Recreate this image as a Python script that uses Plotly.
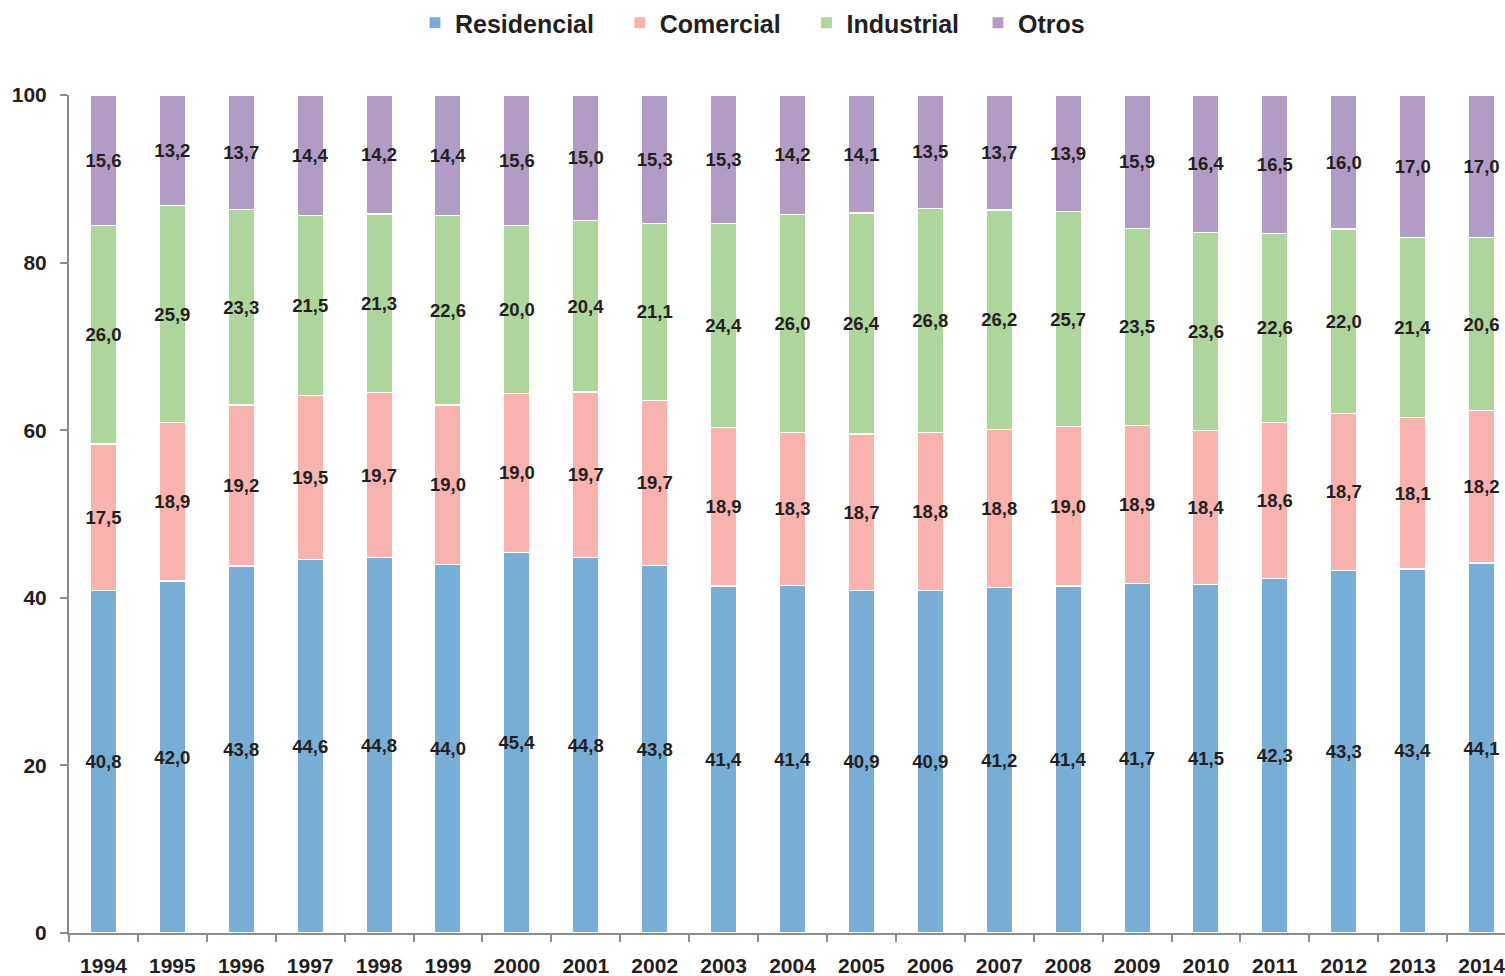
import plotly.graph_objects as go

years = [str(y) for y in range(1994, 2015)]
residencial = [40.8, 42.0, 43.8, 44.6, 44.8, 44.0, 45.4, 44.8, 43.8, 41.4, 41.4,
               40.9, 40.9, 41.2, 41.4, 41.7, 41.5, 42.3, 43.3, 43.4, 44.1]
comercial = [17.5, 18.9, 19.2, 19.5, 19.7, 19.0, 19.0, 19.7, 19.7, 18.9, 18.3,
             18.7, 18.8, 18.8, 19.0, 18.9, 18.4, 18.6, 18.7, 18.1, 18.2]
industrial = [26.0, 25.9, 23.3, 21.5, 21.3, 22.6, 20.0, 20.4, 21.1, 24.4, 26.0,
              26.4, 26.8, 26.2, 25.7, 23.5, 23.6, 22.6, 22.0, 21.4, 20.6]
otros = [15.6, 13.2, 13.7, 14.4, 14.2, 14.4, 15.6, 15.0, 15.3, 15.3, 14.2,
         14.1, 13.5, 13.7, 13.9, 15.9, 16.4, 16.5, 16.0, 17.0, 17.0]

series_names = ["Residencial", "Comercial", "Industrial", "Otros"]
series_values = [residencial, comercial, industrial, otros]
series_colors = ["#78AED6", "#F8B3AF", "#AED59B", "#B19CC6"]
legend_pad = [3, 3, 2, 0]  # non-breaking spaces to widen legend entries

FONT = "Liberation Sans, Arial, sans-serif"
DARK = "#231F20"
AXIS = "#8C8C8C"

fig = go.Figure()
for name, vals, color, pad in zip(series_names, series_values, series_colors, legend_pad):
    fig.add_trace(go.Bar(
        x=years, y=vals, name=name + "\u00a0" * pad,
        customdata=vals,
        marker=dict(color=color, line=dict(color="white", width=1.2)),
        width=0.38,
        texttemplate="<b>%{customdata:.1f}</b>",
        textposition="inside",
        insidetextanchor="middle",
        constraintext="none",
        textangle=0,
        textfont=dict(family=FONT, size=18.5, color=DARK),
        cliponaxis=False,
    ))

fig.update_layout(
    barmode="stack",
    barnorm="percent",
    separators=",.",
    width=1505, height=976,
    margin=dict(l=69, r=0, t=95, b=43),
    plot_bgcolor="white", paper_bgcolor="white",
    font=dict(family=FONT, color=DARK),
    uniformtext=dict(mode="show", minsize=8),
    legend=dict(
        orientation="h", x=0.5, xanchor="center", xref="container",
        y=1.0, yanchor="top", yref="container",
        font=dict(family=FONT, size=25, color=DARK, weight="bold"),
        itemwidth=30,
        traceorder="normal",
    ),
    showlegend=True,
)

fig.update_xaxes(
    type="category",
    range=[-0.5, 20.34],
    showline=True, linecolor=AXIS, linewidth=2,
    ticks="outside", tickson="boundaries", ticklen=7, tickcolor=AXIS,
    tickwidth=1.5,
    tickfont=dict(family=FONT, size=21, color=DARK, weight="bold"),
    ticklabelstandoff=13,
    showgrid=False, zeroline=False,
)
fig.update_yaxes(
    range=[0, 100], tickvals=[0, 20, 40, 60, 80, 100],
    showline=True, linecolor=AXIS, linewidth=2,
    ticks="outside", ticklen=7, tickcolor=AXIS, tickwidth=1.5,
    tickfont=dict(family=FONT, size=21, color=DARK, weight="bold"),
    ticklabelstandoff=9,
    showgrid=False, zeroline=False,
)

fig.write_html(
    "out.html",
    config={"displayModeBar": False},
    post_script="document.body.style.margin='0';document.body.style.overflow='hidden';",
)
